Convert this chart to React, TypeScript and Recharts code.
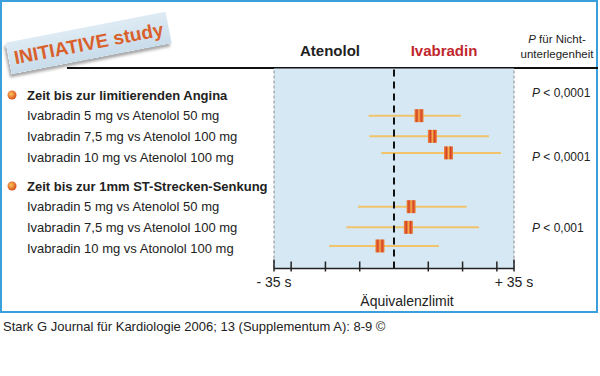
import type { FC } from "react"
import {
  ErrorBar,
  ReferenceArea,
  ReferenceLine,
  Scatter,
  ScatterChart,
  XAxis,
  YAxis,
} from "recharts"

// left column: section headers + comparisons, on a row scale (0 = first header)
const rowLabels = [
  "Zeit bis zur limitierenden Angina",
  "Ivabradin 5 mg vs Atenolol 50 mg",
  "Ivabradin 7,5 mg vs Atenolol 100 mg",
  "Ivabradin 10 mg vs Atenolol 100 mg",
  "Zeit bis zur 1mm ST-Strecken-Senkung",
  "Ivabradin 5 mg vs Atenolol 50 mg",
  "Ivabradin 7,5 mg vs Atenolol 100 mg",
  "Ivabradin 10 mg vs Atonolol 100 mg",
]
const rowPositions = [0, 1, 2, 3, 4.4, 5.4, 6.4, 7.4]
const headerRows = [0, 4.4]

// difference in seconds, with 95% CI, one per comparison
const estimates = [7.3, 11.2, 15.9, 5.0, 4.2, -4.1]
const lowerCI = [-7.4, -7.2, -3.7, -10.5, -13.9, -18.9]
const upperCI = [19.5, 27.7, 31.2, 21.2, 24.8, 13.1]
const markerRows = [1, 2, 2.8, 5.4, 6.4, 7.3]

const pValues = ["0,0001", "0,0001", "0,001"]
const pRows = [-0.1, 3, 6.4]

const xTicks = [-35, -30, -20, -10, 0, 10, 20, 30, 35]
const yDomain = [-1.28, 8.39]

const font = "'Liberation Sans', Arial, sans-serif"

const points = estimates.map((x, i) => ({
  x,
  y: markerRows[i],
  ci: [x - lowerCI[i], upperCI[i] - x],
}))
const pPoints = pRows.map(y => ({ x: 35, y }))

const LeftTick: FC<any> = ({ y, index }) => {
  const isHeader = headerRows.includes(rowPositions[index])
  return (
    <g>
      {isHeader && <circle cx={12} cy={y} r={4.5} fill="url(#bulletGrad)" />}
      <text
        x={27}
        y={y}
        dy="0.35em"
        fontSize={13}
        fontWeight={isHeader ? "bold" : "normal"}
        fill="#222"
        fontFamily={font}
      >
        {rowLabels[index]}
      </text>
    </g>
  )
}

const RightTick: FC<any> = ({ y, index }) => (
  <text x={532} y={y} dy="0.35em" fontSize={12} fill="#222" fontFamily={font}>
    <tspan fontStyle="italic">P</tspan>
    {" < " + pValues[index]}
  </text>
)

const XTick: FC<any> = ({ x, y, payload }) => {
  const v = payload.value
  const edge = v === -35 || v === 35
  if (v === 0) return null
  return (
    <g>
      <line x1={x} x2={x} y1={y - (edge ? 9 : 7)} y2={y + 3} stroke="#222" strokeWidth={1.5} />
      {edge && (
        <text x={x} y={y + 18} textAnchor="middle" fontSize={14} fill="#222" fontFamily={font}>
          {v < 0 ? "- 35 s" : "+ 35 s"}
        </text>
      )}
    </g>
  )
}

const BoxShape: FC<any> = ({ cx, cy }) => (
  <rect x={cx - 4.5} y={cy - 6.5} width={9} height={13} fill="url(#boxGrad)" />
)

const abs = (l: number, t: number) => ({ position: "absolute" as const, left: l, top: t })

export default function App() {
  return (
    <div style={{ position: "relative", width: 600, height: 376, background: "#fff", fontFamily: font }}>
      <style>{"body{margin:0}"}</style>
      <div
        style={{
          ...abs(0, 0),
          width: 594,
          height: 309,
          border: "2px solid #3aa0dc",
        }}
      />
      <div style={{ ...abs(67, 66.5), width: 531, height: 2, background: "#111" }} />
      <div
        style={{
          ...abs(7, 27),
          width: 163,
          height: 32,
          lineHeight: "33px",
          transform: "rotate(-11deg)",
          background: "linear-gradient(#deebf4, #c9dcea)",
          boxShadow: "-2px 3px 3px rgba(0,0,0,0.35)",
          color: "#d9602b",
          fontWeight: "bold",
          fontSize: 19,
          textAlign: "center",
        }}
      >
        INITIATIVE study
      </div>
      <div style={{ ...abs(280, 42), width: 100, textAlign: "center", fontWeight: "bold", fontSize: 15, color: "#222" }}>
        Atenolol
      </div>
      <div style={{ ...abs(394, 42), width: 100, textAlign: "center", fontWeight: "bold", fontSize: 15, color: "#c0262c" }}>
        Ivabradin
      </div>
      <div style={{ ...abs(515, 32), width: 84, textAlign: "center", fontSize: 11.5, lineHeight: "15px", color: "#222" }}>
        <i>P</i> für Nicht-
        <br />
        unterlegenheit
      </div>
      <div style={{ ...abs(3, 319), fontSize: 13, color: "#222", whiteSpace: "nowrap" }}>
        Stark G Journal für Kardiologie 2006; 13 (Supplementum A): 8-9 ©
      </div>
      <div style={abs(0, 0)}>
        <ScatterChart width={600} height={376} margin={{ top: 68.5, right: 0, bottom: 67.5, left: 0 }}>
          <defs>
            <linearGradient id="boxGrad" x1="0" y1="0" x2="1" y2="0">
              <stop offset="0%" stopColor="#ec8a3a" />
              <stop offset="28%" stopColor="#d6402a" />
              <stop offset="50%" stopColor="#f6b24a" />
              <stop offset="72%" stopColor="#d6402a" />
              <stop offset="100%" stopColor="#ec8a3a" />
            </linearGradient>
            <radialGradient id="bulletGrad" cx="0.4" cy="0.4" r="0.6">
              <stop offset="0%" stopColor="#fbc45c" />
              <stop offset="100%" stopColor="#d8501e" />
            </radialGradient>
          </defs>
          <XAxis
            type="number"
            dataKey="x"
            domain={[-35, 35]}
            ticks={xTicks}
            interval={0}
            height={40}
            tickSize={0}
            tickMargin={0}
            tick={<XTick />}
            axisLine={{ stroke: "#222", strokeWidth: 1.5 }}
            label={{
              value: "Äquivalenzlimit",
              position: "insideBottom",
              offset: 3,
              dx: 13,
              fontSize: 14,
              fill: "#222",
              fontFamily: font,
            }}
          />
          <YAxis
            type="number"
            dataKey="y"
            domain={yDomain}
            reversed
            ticks={rowPositions}
            interval={0}
            width={274}
            axisLine={false}
            tickLine={false}
            tick={<LeftTick />}
          />
          <YAxis
            yAxisId="p"
            orientation="right"
            type="number"
            dataKey="y"
            domain={yDomain}
            reversed
            ticks={pRows}
            interval={0}
            width={86}
            axisLine={false}
            tickLine={false}
            tick={<RightTick />}
          />
          <ReferenceArea x1={-35} x2={35} fill="#d5e8f3" fillOpacity={1} />
          <ReferenceLine x={-35} stroke="#8a8a8a" strokeDasharray="3 2" />
          <ReferenceLine x={35} stroke="#8a8a8a" strokeDasharray="3 2" />
          <Scatter data={points} shape={<BoxShape />} isAnimationActive={false}>
            <ErrorBar dataKey="ci" direction="x" width={0} stroke="#f1c46c" strokeWidth={2} />
          </Scatter>
          <Scatter data={pPoints} yAxisId="p" shape={() => <g />} isAnimationActive={false} />
          <ReferenceLine x={0} stroke="#111" strokeWidth={2} strokeDasharray="7 5" />
        </ScatterChart>
      </div>
    </div>
  )
}
